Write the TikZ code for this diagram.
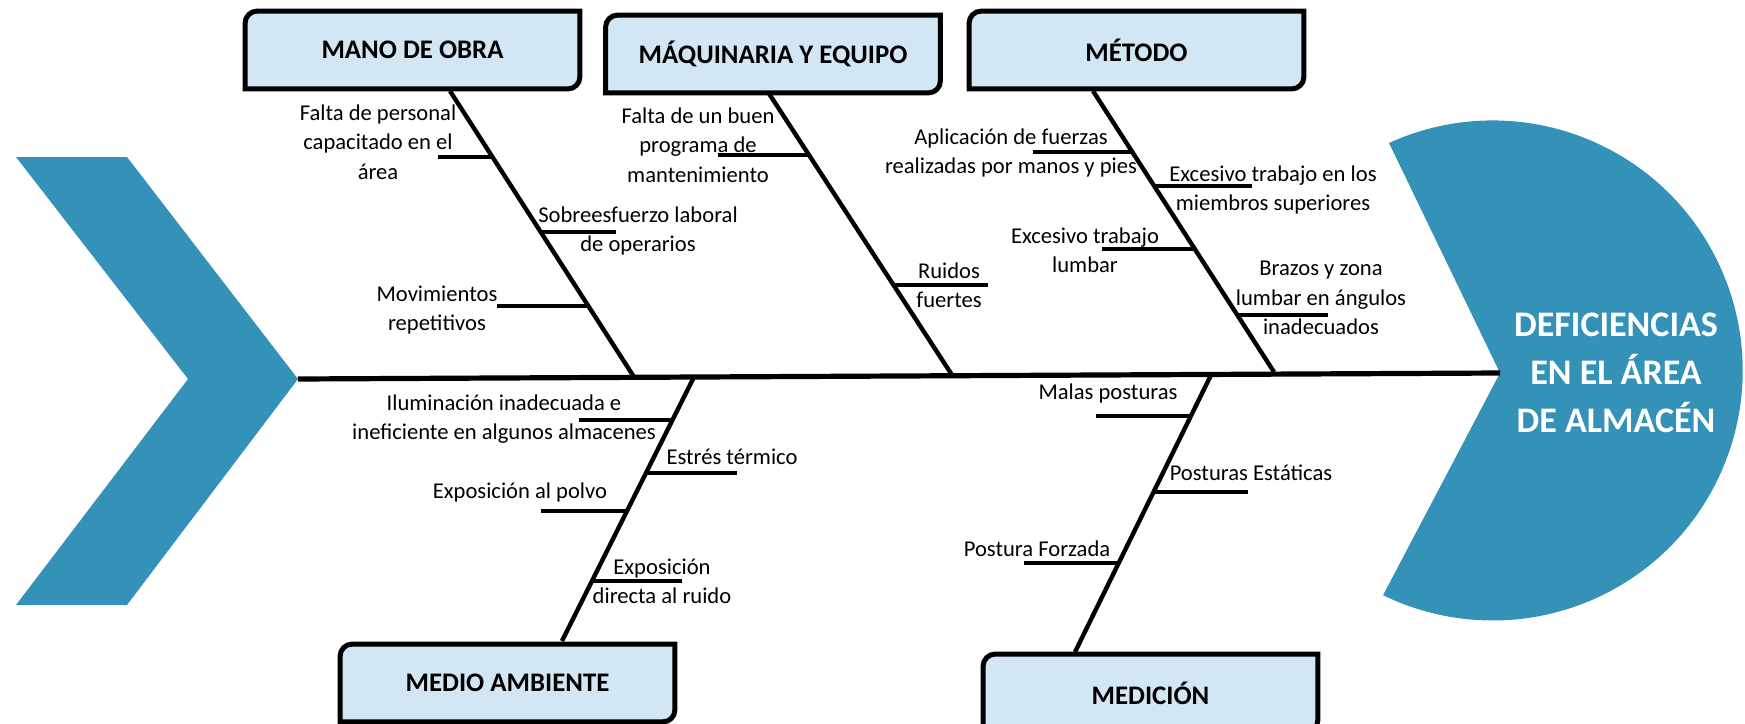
\documentclass[tikz,border=0pt]{standalone}
\usepackage{fontspec}
\setmainfont{Carlito}
\usetikzlibrary{calc,backgrounds}
\definecolor{fishblue}{RGB}{52,145,183}
\definecolor{catfill}{RGB}{211,230,244}

\begin{document}
\begin{tikzpicture}[
  x=0.5pt, y=-0.5pt,
  cat/.style={minimum width=167pt, minimum height=38.5pt, inner sep=0pt, font=\fontsize{13.4}{16}\selectfont\bfseries},
  catline/.style={line width=2.5pt, draw=black, fill=catfill},
  lbl/.style={align=center, inner sep=0pt, font=\fontsize{11.3}{14.7}\selectfont},
  spine/.style={line width=2.6pt},
  bone/.style={line width=2.2pt},
  tick/.style={line width=2pt}
]
\useasboundingbox (0,0) rectangle (1745,723);

% tail, head and spine
\fill[fishblue] (16,157) -- (127,157) -- (298,379) -- (127,605) -- (16,605) -- (188,379) -- cycle;
\fill[fishblue] (1500,373) -- (1389,143) arc[start angle=-114.5, end angle=116, radius=250] -- cycle;
\coordinate (tail) at (298,379);
\coordinate (head) at (1500,373);
\draw[spine] (tail) -- (head);
\node[font=\fontsize{18}{24}\selectfont\bfseries, text=white, align=center] (effect) at (1616,373) {DEFICIENCIAS\\EN EL ÁREA\\DE ALMACÉN};

% categories
\node[cat] (mano) at (412.5,50) {MANO DE OBRA};
\node[cat] (maq) at (773,54) {MÁQUINARIA Y EQUIPO};
\node[cat] (met) at (1136.5,50) {MÉTODO};
\node[cat] (medio) at (507.5,683) {MEDIO AMBIENTE};
\node[cat] (medic) at (1150.5,693) {MEDICIÓN};
\begin{scope}[on background layer]
\foreach \c in {mano,maq,met,medio,medic}
  \draw[catline] (\c.south west) -- ([yshift=-6pt]\c.north west) arc[start angle=180, end angle=90, radius=6pt]
    -- (\c.north east) -- ([yshift=6pt]\c.south east) arc[start angle=0, end angle=-90, radius=6pt] -- cycle;
\end{scope}

% bones
\coordinate (mano-t) at (450,91);   \coordinate (mano-s) at (634,377);
\coordinate (maq-t) at (768,92);    \coordinate (maq-s) at (952,375);
\coordinate (met-t) at (1093,91);   \coordinate (met-s) at (1274,372);
\coordinate (medio-s) at (694,377); \coordinate (medio-b) at (562,641);
\coordinate (medic-s) at (1212,373); \coordinate (medic-b) at (1075,652);
\draw[bone] (mano-t) -- (mano-s);
\draw[bone] (maq-t) -- (maq-s);
\draw[bone] (met-t) -- (met-s);
\draw[bone] (medio-s) -- (medio-b);
\draw[bone] (medic-s) -- (medic-b);

% mano de obra
\draw[tick] ($(mano-t)!0.231!(mano-s)$) -- +(-55,0);
\draw[tick] ($(mano-t)!0.493!(mano-s)$) -- +(75,0);
\draw[tick] ($(mano-t)!0.752!(mano-s)$) -- +(-91,0);
\node[lbl] (mano1) at (378,142) {Falta de personal\\capacitado en el\\área};
\node[lbl] (mano2) at (638,231) {Sobreesfuerzo laboral\\de operarios};
\node[lbl] (mano3) at (437,310) {Movimientos\\repetitivos};

% maquinaria y equipo
\draw[tick] ($(maq-t)!0.223!(maq-s)$) -- +(-91,0);
\draw[tick] ($(maq-t)!0.682!(maq-s)$) -- +(94,0);
\node[lbl] (maq1) at (698,145) {Falta de un buen\\programa de\\mantenimiento};
\node[lbl] (maq2) at (949,285) {Ruidos\\fuertes};

% metodo
\draw[tick] ($(met-t)!0.217!(met-s)$) -- +(-99,0);
\draw[tick] ($(met-t)!0.338!(met-s)$) -- +(98,0);
\draw[tick] ($(met-t)!0.562!(met-s)$) -- +(-93,0);
\draw[tick] ($(met-t)!0.797!(met-s)$) -- +(91,0);
\node[lbl] (met1) at (1011,153) {Aplicación de fuerzas\\realizadas por manos y pies};
\node[lbl] (met2) at (1273,190) {Excesivo trabajo en los\\miembros superiores};
\node[lbl] (met3) at (1085,250) {Excesivo trabajo\\lumbar};
\node[lbl] (met4) at (1321,298) {Brazos y zona\\lumbar en ángulos\\inadecuados};

% medio ambiente
\draw[tick] ($(medio-s)!0.163!(medio-b)$) -- +(-93,0);
\draw[tick] ($(medio-s)!0.365!(medio-b)$) -- +(91,0);
\draw[tick] ($(medio-s)!0.506!(medio-b)$) -- +(-86,0);
\draw[tick] ($(medio-s)!0.772!(medio-b)$) -- +(90,0);
\node[lbl] (medio1) at (504,419) {Iluminación inadecuada e\\ineficiente en algunos almacenes};
\node[lbl] (medio2) at (732,457) {Estrés térmico};
\node[lbl] (medio3) at (520,492) {Exposición al polvo};
\node[lbl] (medio4) at (662,581) {Exposición\\directa al ruido};

% medicion
\draw[tick] ($(medic-s)!0.154!(medic-b)$) -- +(-95,0);
\draw[tick] ($(medic-s)!0.427!(medic-b)$) -- +(94,0);
\draw[tick] ($(medic-s)!0.681!(medic-b)$) -- +(-95,0);
\node[lbl] (medic1) at (1108,393) {Malas posturas};
\node[lbl] (medic2) at (1251,473) {Posturas Estáticas};
\node[lbl] (medic3) at (1037,549) {Postura Forzada};
\end{tikzpicture}
\end{document}
